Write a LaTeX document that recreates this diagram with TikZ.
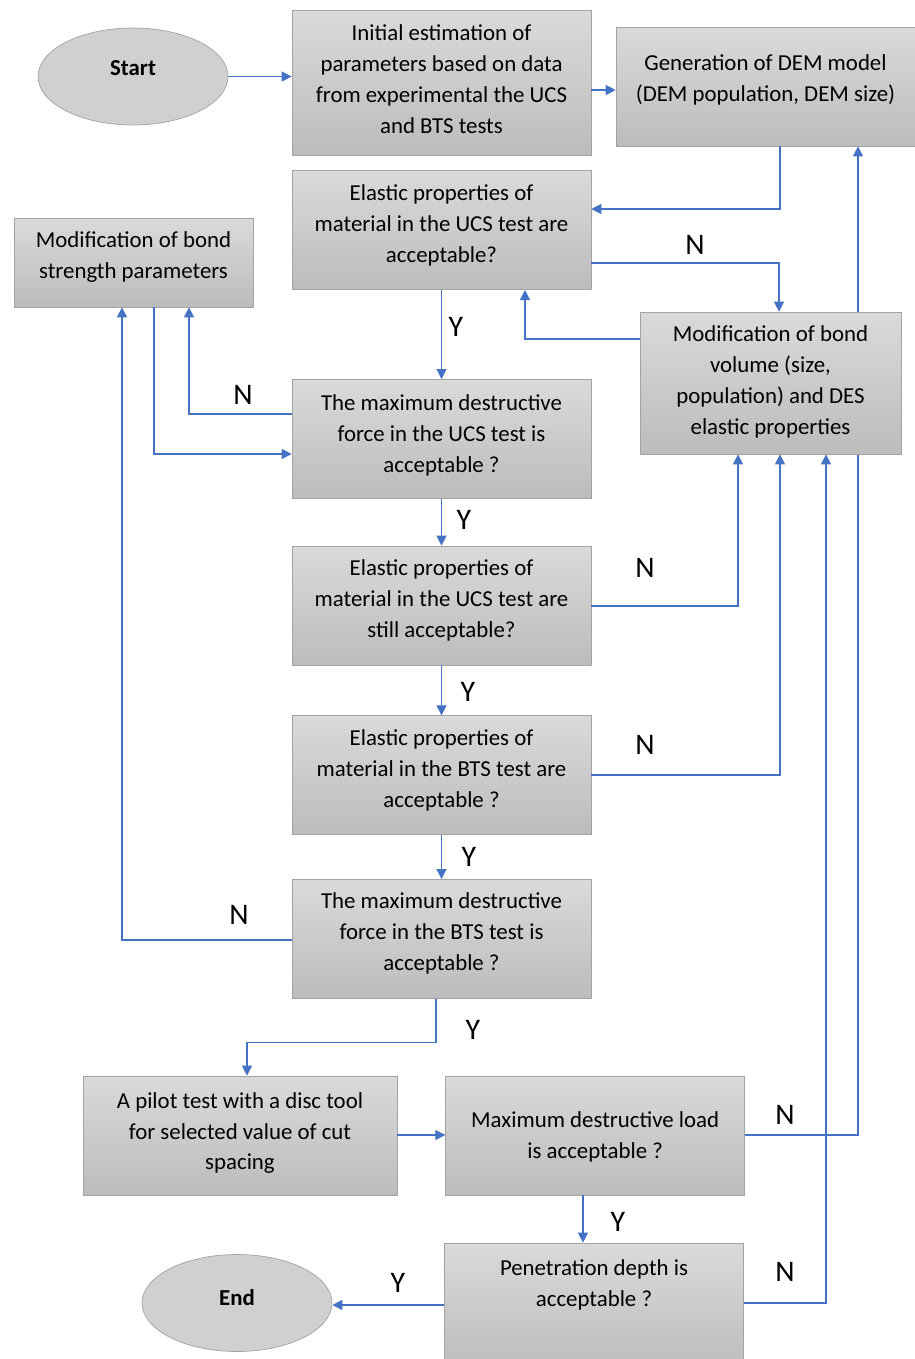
\documentclass[tikz,border=0pt]{standalone}
\usepackage{fontspec}
\setmainfont{Carlito}
\usepackage{tikz}
\usetikzlibrary{arrows.meta,positioning,backgrounds,shapes.geometric}
\definecolor{flowblue}{HTML}{4472C4}
\definecolor{boxtop}{HTML}{DADADA}
\definecolor{boxbottom}{HTML}{BCBCBC}
\definecolor{boxline}{HTML}{A3A3A3}
\definecolor{ovalfill}{HTML}{D0D0D0}

\begin{document}
\begin{tikzpicture}[x=0.02cm,y=-0.02cm,>={Triangle[length=0.2cm,width=0.2cm]}]
    \tikzstyle{pbox}=[draw=boxline,top color=boxtop,bottom color=boxbottom,minimum width=5.98cm,minimum height=2.38cm,align=center,font=\fontsize{13}{17.6}\selectfont,text depth=8pt]
    \tikzstyle{termnode}=[ellipse,draw=boxline,fill=ovalfill,minimum width=3.8cm,minimum height=1.94cm,inner sep=0pt,font=\fontsize{13}{16}\selectfont\bfseries,text depth=10pt]
    \tikzstyle{flow}=[->,draw=flowblue,line width=0.7pt]
    \tikzstyle{yn}=[font=\fontsize{17}{20}\selectfont]
    \useasboundingbox (0,0) rectangle (915,1359);
    \node[termnode] (start) at (133,76.5) {Start};
    \node[pbox,minimum height=2.9cm,text depth=3.5pt] (init) at (441.5,82.5) {Initial estimation of\\ parameters based on data\\ from experimental the UCS\\ and BTS tests};
    \node[pbox,text depth=10pt] (dem) at (765.5,86.5) {Generation of DEM model\\ (DEM population, DEM size)};
    \node[pbox,below=0.3cm of init] (elas1) {Elastic properties of\\ material in the UCS test are\\ acceptable?};
    \node[pbox,minimum width=4.78cm,minimum height=1.78cm] (modbond) at (133.5,262.5) {Modification of bond\\ strength parameters};
    \node[pbox,below=1.78cm of elas1,text depth=6pt] (maxucs) {The maximum destructive\\ force in the UCS test is\\ acceptable ?};
    \node[pbox,minimum width=5.22cm,minimum height=2.84cm,text depth=3pt] (modvol) at (770.5,383) {Modification of bond\\ volume (size,\\ population) and DES\\ elastic properties};
    \node[pbox,below=0.94cm of maxucs] (elas2) {Elastic properties of\\ material in the UCS test are\\ still acceptable?};
    \node[pbox,below=1.0cm of elas2] (elasbts) {Elastic properties of\\ material in the BTS test are\\ acceptable ?};
    \node[pbox,below=0.88cm of elasbts] (maxbts) {The maximum destructive\\ force in the BTS test is\\ acceptable ?};
    \node[pbox,minimum width=6.28cm,text depth=5pt] (pilot) at (240,1135.5) {A pilot test with a disc tool\\ for selected value of cut\\ spacing};
    \node[pbox,right=0.96cm of pilot,text depth=0pt] (maxload) {Maximum destructive load\\ is acceptable ?};
    \node[pbox,minimum height=2.6cm,text depth=28pt] (pen) at (594,1308) {Penetration depth is\\ acceptable ?};
    \node[termnode,text depth=6pt] (end) at (237,1303) {End};
    \node[yn] (n1) at (695,245) {N};
    \node[yn] (y1) at (456,327) {Y};
    \node[yn] (n2) at (243,395) {N};
    \node[yn] (y2) at (464,520) {Y};
    \node[yn] (n3) at (645,568) {N};
    \node[yn] (y3) at (468,692) {Y};
    \node[yn] (n4) at (645,745) {N};
    \node[yn] (y4) at (469,857) {Y};
    \node[yn] (n5) at (239,915) {N};
    \node[yn] (y5) at (473,1030) {Y};
    \node[yn] (n6) at (785,1115) {N};
    \node[yn] (y6) at (618,1222) {Y};
    \node[yn] (n7) at (785,1272) {N};
    \node[yn] (y7) at (398,1283) {Y};
    \draw[flow] (start.east) -- (start.east -| init.west);
    \draw[flow] (init.east |- 0,90) -- (dem.west |- 0,90);
    \draw[flow] (dem.south -| 780,0) |- (elas1.east |- 0,209);
    \draw[flow] (elas1.east |- 0,263) -| (modvol.north -| 779,0);
    \draw[flow] (modvol.west |- 0,339) -| (elas1.south -| 525,0);
    \draw[flow] (elas1.south) -- (elas1.south |- maxucs.north);
    \draw[flow] (maxucs.west |- 0,414) -| (modbond.south -| 189,0);
    \draw[flow] (modbond.south -| 154,0) |- (maxucs.west |- 0,454);
    \draw[flow] (maxucs.south) -- (maxucs.south |- elas2.north);
    \draw[flow] (elas2.east |- 0,606) -| (modvol.south -| 738,0);
    \draw[flow] (elas2.south) -- (elas2.south |- elasbts.north);
    \draw[flow] (elasbts.east |- 0,775) -| (modvol.south -| 780,0);
    \draw[flow] (elasbts.south) -- (elasbts.south |- maxbts.north);
    \draw[flow] (maxbts.west |- 0,940) -| (modbond.south -| 122,0);
    \draw[flow] (maxbts.south -| 436,0) -- ++(0,44) -| (pilot.north -| 247,0);
    \draw[flow] (pilot.east |- 0,1135) -- (maxload.west |- 0,1135);
    \begin{scope}[on background layer]
      \draw[flow] (maxload.east |- 0,1135) -| (dem.south -| 858,0);
    \end{scope}
    \draw[flow] (maxload.south -| 583,0) -- (pen.north -| 583,0);
    \draw[flow] (pen.east |- 0,1303) -| (modvol.south -| 826,0);
    \draw[flow] (pen.west |- 0,1305) -- (end.east |- 0,1305);
\end{tikzpicture}
\end{document}
